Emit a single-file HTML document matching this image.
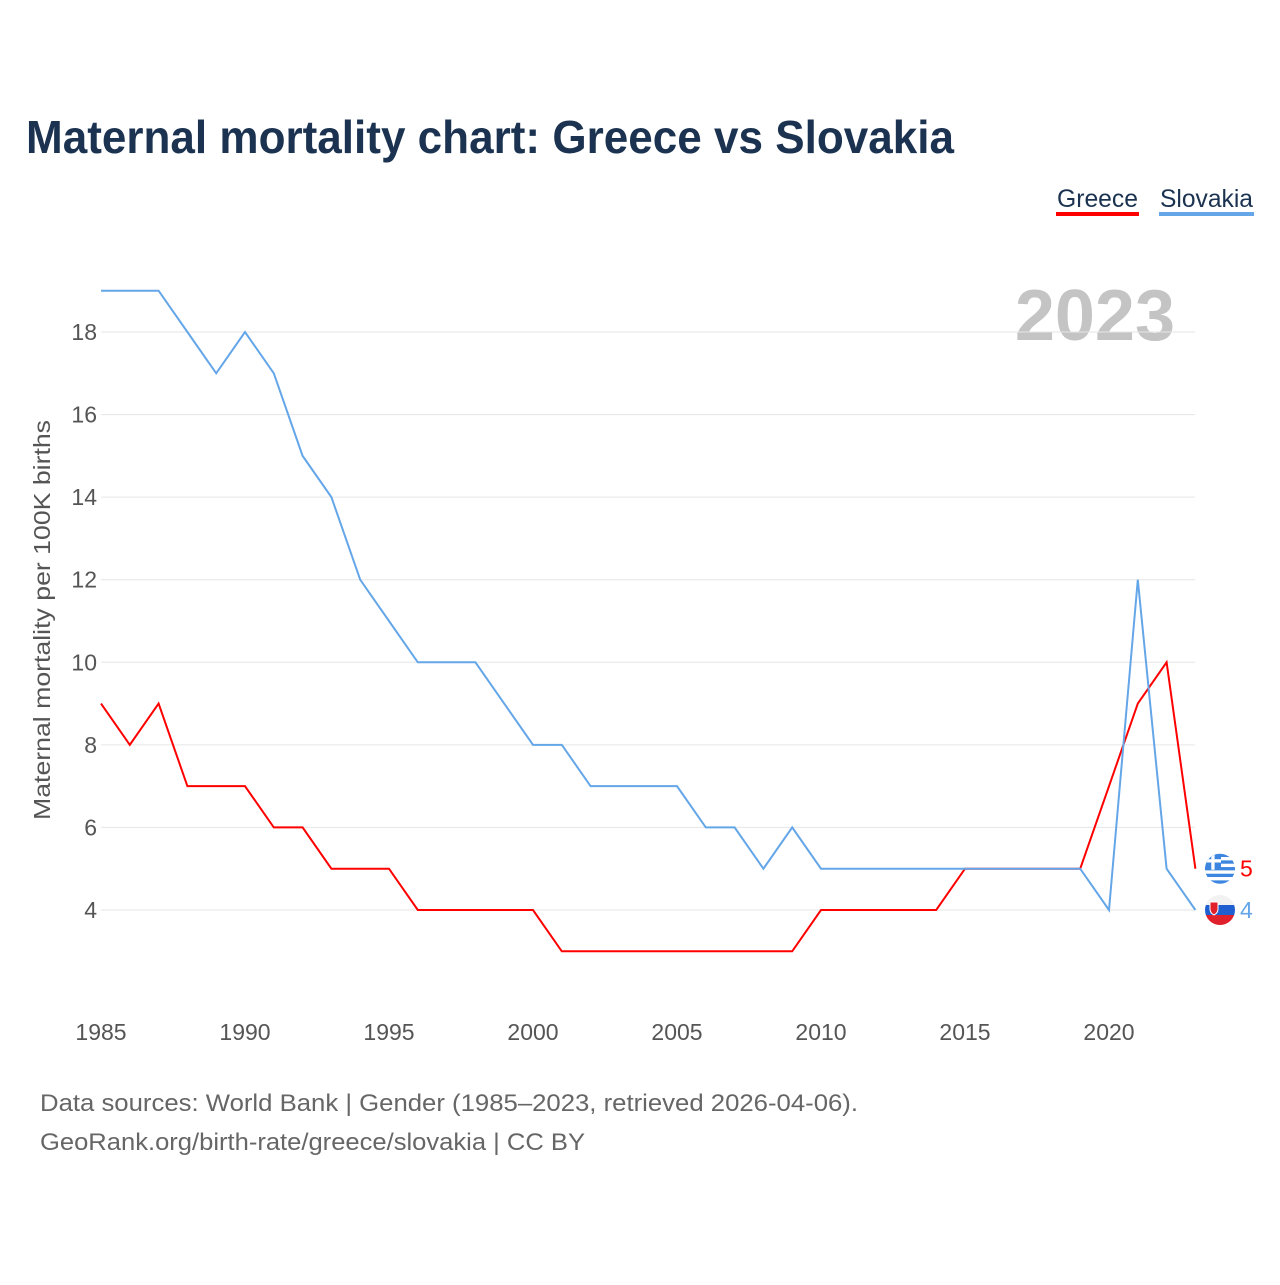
<!DOCTYPE html>
<html><head><meta charset="utf-8"><style>
body{margin:0;width:1280px;height:1280px;background:#fff;font-family:"Liberation Sans",sans-serif;overflow:hidden}
</style></head><body>
<svg id="c" width="1280" height="1280" xmlns="http://www.w3.org/2000/svg">
<text x="26" y="153" font-size="46" font-weight="bold" fill="#1b3350" textLength="928" lengthAdjust="spacingAndGlyphs">Maternal mortality chart: Greece vs Slovakia</text>
<g><text x="1057" y="207" font-size="25" fill="#1b3350" textLength="81" lengthAdjust="spacingAndGlyphs">Greece</text><rect x="1056" y="212" width="83" height="4" fill="#ff0000"/></g>
<g><text x="1160" y="207" font-size="25" fill="#1b3350" textLength="93" lengthAdjust="spacingAndGlyphs">Slovakia</text><rect x="1159" y="212" width="95" height="4" fill="#64a6e8"/></g>
<text x="1175" y="340" font-size="72" font-weight="bold" fill="#c4c4c4" text-anchor="end">2023</text>
<text transform="translate(50,620) rotate(-90)" font-size="23" fill="#555" text-anchor="middle" textLength="400" lengthAdjust="spacingAndGlyphs">Maternal mortality per 100K births</text>
<g id="grid"></g><g id="lines"></g><g id="ends"></g>
<text x="40" y="1111" font-size="24" fill="#666" textLength="818" lengthAdjust="spacingAndGlyphs">Data sources: World Bank | Gender (1985–2023, retrieved 2026-04-06).</text>
<text x="40" y="1150" font-size="24" fill="#666" textLength="545" lengthAdjust="spacingAndGlyphs">GeoRank.org/birth-rate/greece/slovakia | CC BY</text>
</svg>
<script>
const years=[];for(let y=1985;y<=2023;y++)years.push(y);
const greece=[9,8,9,7,7,7,6,6,5,5,5,4,4,4,4,4,3,3,3,3,3,3,3,3,3,4,4,4,4,4,5,5,5,5,5,7,9,10,5];
const slovakia=[19,19,19,18,17,18,17,15,14,12,11,10,10,10,9,8,8,7,7,7,7,6,6,5,6,5,5,5,5,5,5,5,5,5,5,4,12,5,4];
const yTicks=[4,6,8,10,12,14,16,18];
const xTicks=[1985,1990,1995,2000,2005,2010,2015,2020];
const NS="http://www.w3.org/2000/svg";
const X=v=>101+(v-1985)*1008/35;
const Y=v=>910-(v-4)*578/14;
const g=document.getElementById('grid');
function mk(t,a,p){const e=document.createElementNS(NS,t);for(const k in a)e.setAttribute(k,a[k]);p.appendChild(e);return e;}
yTicks.forEach(v=>{
 const l=mk('line',{x1:101,x2:1195,y1:Y(v),y2:Y(v),stroke:'#e6e6e6','stroke-width':1},g);
 
 
 const t=mk('text',{x:97,y:Y(v)+8,'font-size':23,fill:'#555','text-anchor':'end'},g);t.textContent=v;
 
 
});
xTicks.forEach(v=>{
 const t=mk('text',{x:X(v),y:1040,'font-size':23,fill:'#555','text-anchor':'middle'},g);t.textContent=v;
 
 
});
const L=document.getElementById('lines');
[[greece,'#ff0000','greece-line'],[slovakia,'#64a6e8','slovakia-line']].forEach(([d,c,n])=>{
 const p=mk('polyline',{points:d.map((v,i)=>X(years[i])+','+Y(v)).join(' '),fill:'none',stroke:c,'stroke-width':2},L);
 
 
});
const E=document.getElementById('ends');
function flag(cy,type,val,col,name){
 const gg=mk('g',{},E);
 
 
 const cx=1220;
 const id='cl'+type;
 const cp=mk('clipPath',{id:id},gg);mk('circle',{cx:cx,cy:cy,r:15},cp);
 mk('circle',{cx:cx,cy:cy,r:16,fill:'#fff'},gg);
 const f=mk('g',{'clip-path':'url(#'+id+')'},gg);
 if(type==='gr'){
  for(let i=0;i<9;i++)mk('rect',{x:cx-15,y:cy-15+i*30/9,width:30,height:30/9+0.3,fill:i%2?'#fff':'#3d86e0'},f);
  mk('rect',{x:cx-15,y:cy-15,width:16,height:16,fill:'#3d86e0'},f);
  mk('rect',{x:cx-15,y:cy-9.5,width:16,height:3.3,fill:'#fff'},f);
  mk('rect',{x:cx-8.7,y:cy-15,width:3.3,height:16,fill:'#fff'},f);
 }else{
  mk('rect',{x:cx-15,y:cy-15,width:30,height:10,fill:'#f2f2f2'},f);
  mk('rect',{x:cx-15,y:cy-5,width:30,height:10,fill:'#1f5fd0'},f);
  mk('rect',{x:cx-15,y:cy+5,width:30,height:10,fill:'#e0202a'},f);
  mk('path',{d:`M${cx-10},${cy-8} h8 v7 q0,4 -4,6 q-4,-2 -4,-6z`,fill:'#e0202a',stroke:'#fff','stroke-width':1},f);
 }
 const t=mk('text',{x:1240,y:cy+8,'font-size':23,fill:col},gg);t.textContent=val;
}
flag(Y(greece[greece.length-1]),'gr',greece[greece.length-1],'#ff0000','greece-end-label');
flag(Y(slovakia[slovakia.length-1]),'sk',slovakia[slovakia.length-1],'#64a6e8','slovakia-end-label');
</script>
</body></html>
